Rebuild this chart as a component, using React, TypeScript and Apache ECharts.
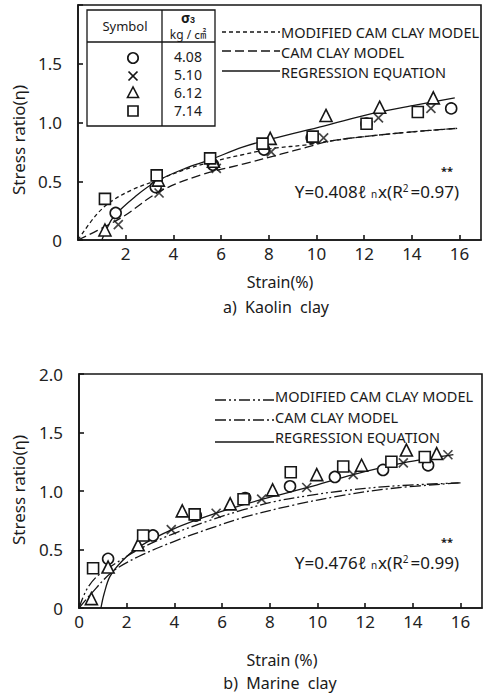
import React, { useEffect, useRef } from "react";
import * as echarts from "echarts";

// ---- a) Kaolin clay : measured points [strain %, stress ratio] ----
const kaolinCircle = [[1.58, 0.23], [3.26, 0.45], [5.66, 0.64], [7.8, 0.77], [9.8, 0.87], [12.1, 0.99], [15.65, 1.12]];
const kaolinCross = [[1.69, 0.13], [3.4, 0.4], [5.8, 0.61], [8.1, 0.75], [10.3, 0.87], [12.6, 1.04], [14.8, 1.12]];
const kaolinTriangle = [[1.13, 0.085], [3.37, 0.51], [5.68, 0.67], [8.06, 0.865], [10.4, 1.06], [12.65, 1.13], [14.9, 1.21]];
const kaolinSquare = [[1.13, 0.35], [3.3, 0.55], [5.54, 0.695], [7.74, 0.82], [9.84, 0.88], [12.1, 0.99], [14.25, 1.09]];

// model curves
const kaolinModified = [[0, 0], [0.75, 0.21], [1.4, 0.33], [2.3, 0.43], [3.2, 0.5], [4.5, 0.6], [5.6, 0.665], [7.0, 0.73], [8.2, 0.78], [9.6, 0.81], [10.5, 0.84], [12, 0.88], [14, 0.92], [15.9, 0.95]];
const kaolinCamClay = [[0, 0], [0.8, 0.08], [1.9, 0.2], [3.4, 0.41], [5.1, 0.55], [7.0, 0.65], [8.5, 0.73], [9.6, 0.79], [10.5, 0.84], [12, 0.88], [14, 0.92], [15.9, 0.95]];
const kaolinRegression = [[1.0, 0], [1.15, 0.07], [1.5, 0.2], [2.4, 0.37], [3.3, 0.5], [4.5, 0.61], [5.5, 0.68], [6.9, 0.79], [8.1, 0.86], [10.3, 0.97], [12.4, 1.08], [14.2, 1.15], [15.8, 1.21]];

// ---- b) Marine clay ----
const marineCircle = [[1.22, 0.42], [3.1, 0.62], [4.9, 0.79], [6.97, 0.94], [8.85, 1.04], [10.73, 1.12], [12.75, 1.18], [14.64, 1.22]];
const marineCross = [[3.87, 0.67], [5.75, 0.81], [7.66, 0.93], [9.55, 1.03], [11.5, 1.14], [13.6, 1.24], [15.47, 1.31]];
const marineTriangle = [[0.52, 0.08], [1.22, 0.35], [2.48, 0.54], [4.33, 0.83], [6.34, 0.89], [8.12, 1.01], [9.97, 1.14], [11.85, 1.22], [13.73, 1.35], [15.0, 1.32]];
const marineSquare = [[0.59, 0.34], [2.69, 0.62], [4.85, 0.8], [6.9, 0.93], [8.88, 1.16], [11.08, 1.21], [13.1, 1.25], [14.5, 1.29]];

const marineModified = [[0, 0], [0.3, 0.15], [0.7, 0.26], [1.3, 0.35], [2.5, 0.5], [3.9, 0.63], [5.5, 0.75], [6.9, 0.84], [8.2, 0.91], [9.6, 0.96], [11, 1.0], [13, 1.04], [16, 1.07]];
const marineCamClay = [[0, 0], [0.5, 0.12], [1.4, 0.31], [2.5, 0.44], [4.0, 0.57], [5.5, 0.68], [7.0, 0.78], [9.0, 0.88], [11, 0.96], [13, 1.02], [16, 1.07]];
const marineRegression = [[0.92, 0], [1.05, 0.12], [1.3, 0.27], [1.8, 0.4], [2.5, 0.52], [3.9, 0.67], [5.75, 0.81], [7.7, 0.93], [9.6, 1.03], [11.5, 1.14], [13.6, 1.24], [15.7, 1.31]];

// table / legend texts
const sigmaValues = ["4.08", "5.10", "6.12", "7.14"];
const curveNames = ["MODIFIED CAM CLAY MODEL", "CAM CLAY MODEL", "REGRESSION EQUATION"];

const INK = "#161616";
const FONT = "'Noto Sans', 'Noto Sans CJK KR', sans-serif";
const CROSS = "path://M0,0L10,10M10,0L0,10";

function xAxis(gridIndex: number, showZero: boolean) {
  return {
    type: "value",
    gridIndex,
    min: 0,
    max: 16.9,
    interval: 2,
    axisLine: { show: true, onZero: false, lineStyle: { color: INK, width: 1.6 } },
    axisTick: { show: true, inside: true, length: 5, lineStyle: { color: INK, width: 1.6 } },
    axisLabel: {
      color: "#222",
      fontSize: 17,
      fontFamily: FONT,
      margin: 5,
      showMaxLabel: false,
      formatter: (v: number) => {
        if (v === 0 && !showZero) return "";
        return v % 2 === 0 ? String(v) : "";
      },
    },
    splitLine: { show: false },
  };
}

function yAxis(gridIndex: number, showTop: boolean) {
  return {
    type: "value",
    gridIndex,
    min: 0,
    max: 2,
    interval: 0.5,
    axisLine: { show: true, onZero: false, lineStyle: { color: INK, width: 1.6 } },
    axisTick: { show: true, inside: true, length: 5, lineStyle: { color: INK, width: 1.6 } },
    axisLabel: {
      color: "#222",
      fontSize: 17,
      fontFamily: FONT,
      margin: 16,
      formatter: (v: number) => {
        if (v === 0) return "0";
        if (v === 2 && !showTop) return "";
        return v.toFixed(1);
      },
    },
    splitLine: { show: false },
  };
}

function pointSeries(idx: number, data: number[][], kind: string) {
  const base: any = {
    type: "scatter",
    xAxisIndex: idx,
    yAxisIndex: idx,
    data,
    z: 5,
    itemStyle: { color: "#fff", borderColor: INK, borderWidth: 1.6, opacity: 1 },
  };
  if (kind === "circle") return { ...base, symbol: "circle", symbolSize: 11 };
  if (kind === "triangle") return { ...base, symbol: "triangle", symbolSize: 12 };
  if (kind === "square") return { ...base, symbol: "rect", symbolSize: 11 };
  return { ...base, symbol: CROSS, symbolSize: 9, itemStyle: { color: "transparent", borderColor: INK, borderWidth: 1.7 } };
}

function curveSeries(idx: number, data: number[][], dash: any) {
  return {
    type: "line",
    xAxisIndex: idx,
    yAxisIndex: idx,
    data,
    showSymbol: false,
    symbol: "none",
    smooth: 0.35,
    z: 3,
    lineStyle: { color: INK, width: 1.3, type: dash },
  };
}

const DASH_SHORT = [4, 3];
const DASH_LONG = [9, 4];
const DASH_DOT_DOT = [11, 3, 2, 3, 2, 3];
const DASH_DOT = [11, 3, 2, 3];

function txt(x: number, y: number, text: string, size: number, extra: any = {}) {
  return {
    type: "text",
    x,
    y,
    z: 20,
    style: {
      text,
      fontSize: size,
      fontFamily: FONT,
      fill: "#1a1a1a",
      align: "center",
      verticalAlign: "middle",
      ...extra,
    },
  };
}

function seg(x1: number, y1: number, x2: number, y2: number, dash: any, w = 1.3) {
  return {
    type: "line",
    z: 20,
    shape: { x1, y1, x2, y2 },
    style: { stroke: INK, lineWidth: w, lineDash: dash },
  };
}

function equation(rightX: number, y: number, coef: string, r2: string) {
  return [
    {
      type: "text",
      x: rightX,
      y,
      z: 20,
      style: {
        text: `Y=${coef}ℓ {sub|n}x(R{sup|2}=${r2})`,
        fontSize: 17,
        fontFamily: FONT,
        fill: "#1a1a1a",
        align: "right",
        verticalAlign: "middle",
        rich: {
          sub: { fontSize: 10, fontFamily: FONT, fill: "#1a1a1a", padding: [6, 1, 0, 0] },
          sup: { fontSize: 10, fontFamily: FONT, fill: "#1a1a1a", padding: [0, 2, 6, 0] },
        },
      },
    },
    txt(rightX - 12, y - 21, "**", 11, { fontWeight: "bold" }),
  ];
}

function symbolTable() {
  const rowsText = [56, 74, 92, 110];
  const rowsSym = [58, 76, 93, 111];
  const sx = 133;
  const els: any[] = [
    { type: "rect", z: 15, shape: { x: 87, y: 10, width: 128, height: 116 }, style: { fill: "#fff", stroke: INK, lineWidth: 1.3 } },
    seg(87, 42, 215, 42, null),
    seg(162, 10, 162, 126, null),
    txt(125, 26, "Symbol", 13),
    txt(188, 17, "σ{s|3}", 14, { fontWeight: "bold", rich: { s: { fontSize: 9, fontWeight: "bold", padding: [5, 0, 0, 0] } } }),
    txt(188, 34, "kg / ㎠", 12),
  ];
  sigmaValues.forEach((v, i) => els.push(txt(188, rowsText[i], v, 14)));
  els.push({ type: "circle", z: 20, shape: { cx: sx, cy: rowsSym[0], r: 5.2 }, style: { fill: "#fff", stroke: INK, lineWidth: 1.7 } });
  els.push(seg(sx - 4.5, rowsSym[1] - 4.5, sx + 4.5, rowsSym[1] + 4.5, null, 1.7));
  els.push(seg(sx - 4.5, rowsSym[1] + 4.5, sx + 4.5, rowsSym[1] - 4.5, null, 1.7));
  els.push({ type: "polygon", z: 20, shape: { points: [[sx, rowsSym[2] - 6], [sx - 5.5, rowsSym[2] + 4.5], [sx + 5.5, rowsSym[2] + 4.5]] }, style: { fill: "#fff", stroke: INK, lineWidth: 1.6 } });
  els.push({ type: "rect", z: 20, shape: { x: sx - 5, y: rowsSym[3] - 5, width: 10, height: 10 }, style: { fill: "#fff", stroke: INK, lineWidth: 1.7 } });
  return els;
}

function lineLegend(x1: number, x2: number, lineYs: number[], textYs: number[], dashes: any[]) {
  const els: any[] = [];
  curveNames.forEach((name, i) => {
    els.push(seg(x1, lineYs[i], x2, lineYs[i], dashes[i], 1.4));
    els.push(txt(x2 + 1, textYs[i], name, 14.5, { align: "left" }));
  });
  return els;
}

export default function App() {
  const ref = useRef<HTMLDivElement>(null);

  useEffect(() => {
    document.body.style.margin = "0";
    if (!ref.current) return;
    const chart = echarts.init(ref.current, null, { renderer: "svg" });

    const yTitleTop: any = txt(18, 140, "Stress ratio(η)", 17);
    yTitleTop.rotation = Math.PI / 2;
    const yTitleBottom: any = txt(18, 490, "Stress ratio(η)", 17);
    yTitleBottom.rotation = Math.PI / 2;

    const option: any = {
      animation: false,
      backgroundColor: "#fff",
      grid: [
        { left: 78, top: 5, width: 403, height: 235, show: true, borderColor: INK, borderWidth: 1.6, backgroundColor: "transparent" },
        { left: 79, top: 374, width: 403, height: 234, show: true, borderColor: INK, borderWidth: 1.6, backgroundColor: "transparent" },
      ],
      xAxis: [xAxis(0, false), xAxis(1, true)],
      yAxis: [yAxis(0, false), yAxis(1, true)],
      series: [
        curveSeries(0, kaolinModified, DASH_SHORT),
        curveSeries(0, kaolinCamClay, DASH_LONG),
        curveSeries(0, kaolinRegression, "solid"),
        pointSeries(0, kaolinCircle, "circle"),
        pointSeries(0, kaolinCross, "cross"),
        pointSeries(0, kaolinTriangle, "triangle"),
        pointSeries(0, kaolinSquare, "square"),
        curveSeries(1, marineModified, DASH_DOT_DOT),
        curveSeries(1, marineCamClay, DASH_DOT),
        curveSeries(1, marineRegression, "solid"),
        pointSeries(1, marineCircle, "circle"),
        pointSeries(1, marineCross, "cross"),
        pointSeries(1, marineTriangle, "triangle"),
        pointSeries(1, marineSquare, "square"),
      ],
      graphic: [
        // axis titles and captions
        yTitleTop,
        txt(280, 282, "Strain(%)", 16),
        txt(276, 307, "a)  Kaolin  clay", 16),
        yTitleBottom,
        txt(282, 660, "Strain (%)", 16),
        txt(280, 683, "b)  Marine  clay", 16),
        ...symbolTable(),
        ...lineLegend(222, 280, [32, 51, 71], [32, 52, 72], [DASH_SHORT, DASH_LONG, null]),
        ...lineLegend(215, 274, [400, 420, 442], [396, 417, 437], [DASH_DOT_DOT, DASH_DOT, null]),
        ...equation(459, 191, "0.408", "0.97"),
        ...equation(459, 562, "0.476", "0.99"),
      ],
    };

    chart.setOption(option);
    return () => chart.dispose();
  }, []);

  return <div ref={ref} style={{ width: 490, height: 694 }} />;
}
